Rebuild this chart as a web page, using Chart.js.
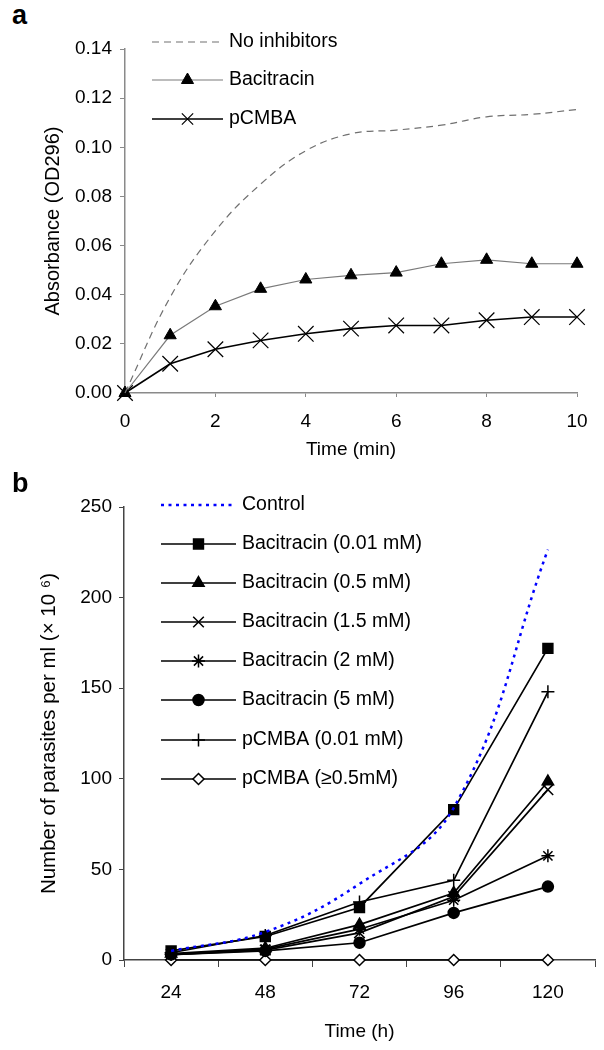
<!DOCTYPE html>
<html>
<head>
<meta charset="utf-8">
<script src="https://cdn.jsdelivr.net/npm/chart.js"></script>
<style>
  html, body { margin: 0; padding: 0; background: #fff; }
  body { width: 604px; height: 1050px; position: relative; overflow: hidden; font-family: 'Liberation Sans', Arial, sans-serif; }
  .panel { position: absolute; left: 0; }
  .tag { position: absolute; font-weight: bold; font-size: 27px; line-height: 1; color: #000; }
</style>
</head>
<body>
<div class="tag" style="left:12px; top:2px;">a</div>
<div class="panel" style="top:0; width:604px; height:470px;"><canvas id="chartA" width="604" height="470"></canvas></div>
<div class="panel" style="top:480px; width:604px; height:570px;"><canvas id="chartB" width="604" height="570"></canvas></div>
<div class="tag" style="left:12px; top:470px;">b</div>
<script>
// ---- panel a: absorbance over time ----
const timeMin = [0, 1, 2, 3, 4, 5, 6, 7, 8, 9, 10];
const noInhibitors = [0, 0.039, 0.066, 0.085, 0.0986, 0.1055, 0.107, 0.109, 0.1124, 0.1134, 0.1154];
const bacitracinA = [0, 0.0235, 0.0353, 0.0424, 0.0462, 0.0479, 0.049, 0.0526, 0.0542, 0.0526, 0.0526];
const pcmbaA = [0, 0.0119, 0.0178, 0.0214, 0.0241, 0.0262, 0.0275, 0.0275, 0.0296, 0.0309, 0.0309];

// ---- panel b: parasite growth ----
const timeHours = ['24', '48', '72', '96', '120'];
const control = [5, 15.5, 42, 84, 226.5];
const bac001 = [5, 13, 29, 83, 172];
const bac05 = [3.5, 6.5, 19.5, 37, 98.5];
const bac15 = [3, 5.5, 15, 35, 94];
const bac2 = [3, 6, 17, 33, 57.5];
const bac5 = [3, 5, 9.5, 26, 40.5];
const pcmba001 = [4, 13.5, 32, 44, 148];
const pcmba05 = [0, 0, 0, 0, 0];

const FONT = "'Liberation Sans', Arial, sans-serif";
Chart.defaults.font.family = FONT;
Chart.defaults.color = '#000';

// legend drawn inside the plot, line + marker + label
const insideLegend = {
  id: 'insideLegend',
  afterDraw(chart, args, opts) {
    const ctx = chart.ctx;
    ctx.save();
    chart.data.datasets.forEach((ds, i) => {
      const y = opts.rows[i];
      ctx.beginPath();
      ctx.setLineDash(ds.borderDash || []);
      ctx.strokeStyle = ds.borderColor;
      ctx.lineWidth = ds.borderWidth;
      ctx.moveTo(opts.x1, y);
      ctx.lineTo(opts.x2, y);
      ctx.stroke();
      ctx.setLineDash([]);
      if (ds.pointRadius > 0) {
        ctx.fillStyle = ds.pointBackgroundColor;
        ctx.strokeStyle = ds.pointBorderColor;
        ctx.lineWidth = ds.pointBorderWidth;
        const r = (opts.radius && opts.radius[i]) || ds.pointRadius;
        Chart.helpers.drawPoint(ctx, { pointStyle: ds.pointStyle, radius: r, borderWidth: ds.pointBorderWidth, rotation: 0 }, (opts.x1 + opts.x2) / 2, y);
      }
      ctx.fillStyle = '#000';
      ctx.font = opts.fontSize + 'px ' + FONT;
      ctx.textAlign = 'left';
      ctx.textBaseline = 'middle';
      ctx.fillText(ds.label, opts.xText, y);
    });
    ctx.restore();
  }
};

function xy(xs, ys) {
  return xs.map((x, i) => ({ x: x, y: ys[i] }));
}

// ===== chart a =====
const greyA = '#8a8a8a';
new Chart(document.getElementById('chartA'), {
  type: 'line',
  data: {
    datasets: [
      {
        label: 'No inhibitors',
        data: xy(timeMin, noInhibitors),
        borderColor: '#707070',
        borderWidth: 1.2,
        borderDash: [7, 5],
        tension: 0.4,
        pointRadius: 0,
        clip: false
      },
      {
        label: 'Bacitracin',
        data: xy(timeMin, bacitracinA),
        borderColor: '#7a7a7a',
        borderWidth: 1.2,
        pointStyle: 'triangle',
        pointRadius: 7,
        pointBackgroundColor: '#000',
        pointBorderColor: '#000',
        pointBorderWidth: 1,
        clip: false
      },
      {
        label: 'pCMBA',
        data: xy(timeMin, pcmbaA),
        borderColor: '#000',
        borderWidth: 1.6,
        pointStyle: 'crossRot',
        pointRadius: 11,
        pointBackgroundColor: '#000',
        pointBorderColor: '#000',
        pointBorderWidth: 1.2,
        clip: false
      }
    ]
  },
  options: {
    responsive: false,
    animation: false,
    layout: { padding: { top: 49, right: 27, left: 0, bottom: 0 } },
    plugins: {
      legend: { display: false },
      tooltip: { enabled: false },
      insideLegend: { x1: 152, x2: 223, xText: 229, rows: [42, 80, 119], fontSize: 19.5, radius: [0, 7, 8] }
    },
    scales: {
      x: {
        type: 'linear',
        min: 0,
        max: 10,
        afterFit: s => { s.height = 77; },
        ticks: { stepSize: 2, padding: 13, font: { size: 19 }, color: '#000' },
        grid: { drawOnChartArea: false, drawTicks: true, tickLength: 4, color: greyA },
        border: { color: greyA, width: 1.5 },
        title: { display: true, text: 'Time (min)', font: { size: 19 }, color: '#000', padding: { top: 0, bottom: 9 } }
      },
      y: {
        min: 0,
        max: 0.14,
        afterFit: s => { s.width = 125; },
        ticks: { stepSize: 0.02, padding: 8, font: { size: 19 }, color: '#000', callback: v => v.toFixed(2) },
        grid: { drawOnChartArea: false, drawTicks: true, tickLength: 5, color: greyA },
        border: { color: greyA, width: 1.5 },
        title: { display: true, text: 'Absorbance (OD296)', font: { size: 20 }, color: '#000', padding: { top: 41, bottom: 0 } }
      }
    }
  },
  plugins: [insideLegend]
});

// ===== chart b =====
const axisB = '#444';
function blackSeries(label, values, style, radius, fill) {
  return {
    label: label,
    data: values,
    borderColor: '#000',
    borderWidth: 1.7,
    pointStyle: style,
    pointRadius: radius,
    pointBackgroundColor: fill,
    pointBorderColor: '#000',
    pointBorderWidth: 1.5,
    clip: false
  };
}

new Chart(document.getElementById('chartB'), {
  type: 'line',
  data: {
    labels: timeHours,
    datasets: [
      {
        label: 'Control',
        data: control,
        borderColor: '#0000ff',
        borderWidth: 2.5,
        borderDash: [3, 4.5],
        tension: 0.4,
        pointRadius: 0,
        clip: false
      },
      blackSeries('Bacitracin (0.01 mM)', bac001, 'rect', 7, '#000'),
      blackSeries('Bacitracin (0.5 mM)', bac05, 'triangle', 6.5, '#000'),
      blackSeries('Bacitracin (1.5 mM)', bac15, 'crossRot', 7.5, '#000'),
      blackSeries('Bacitracin (2 mM)', bac2, 'star', 6.5, '#000'),
      blackSeries('Bacitracin (5 mM)', bac5, 'circle', 5.5, '#000'),
      blackSeries('pCMBA (0.01 mM)', pcmba001, 'cross', 6.5, '#000'),
      blackSeries('pCMBA (\u22650.5mM)', pcmba05, 'rectRot', 5.5, '#fff')
    ]
  },
  options: {
    responsive: false,
    animation: false,
    layout: { padding: { top: 27, right: 6, left: 0, bottom: 0 } },
    plugins: {
      legend: { display: false },
      tooltip: { enabled: false },
      insideLegend: { x1: 161, x2: 236, xText: 242, rows: [25, 64, 103, 142, 181, 220, 260, 299], fontSize: 19.5 }
    },
    scales: {
      x: {
        type: 'category',
        offset: true,
        afterFit: s => { s.height = 90; },
        ticks: { padding: 14, font: { size: 19 }, color: '#000' },
        grid: { offset: true, drawOnChartArea: false, drawTicks: true, tickLength: 7, color: axisB },
        border: { color: axisB, width: 1.5 },
        title: { display: true, text: 'Time (h)', font: { size: 19 }, color: '#000', padding: { top: 0, bottom: 7 } }
      },
      y: {
        min: 0,
        max: 250,
        afterFit: s => { s.width = 124; },
        ticks: { stepSize: 50, padding: 7, font: { size: 19 }, color: '#000' },
        grid: { drawOnChartArea: false, drawTicks: true, tickLength: 5, color: axisB },
        border: { color: axisB, width: 1.5 },
        title: { display: true, text: 'Number of parasites per ml (\u00d7 10 \u2076)', font: { size: 20.5 }, color: '#000', padding: { top: 37, bottom: 0 } }
      }
    }
  },
  plugins: [insideLegend]
});
</script>
</body>
</html>
